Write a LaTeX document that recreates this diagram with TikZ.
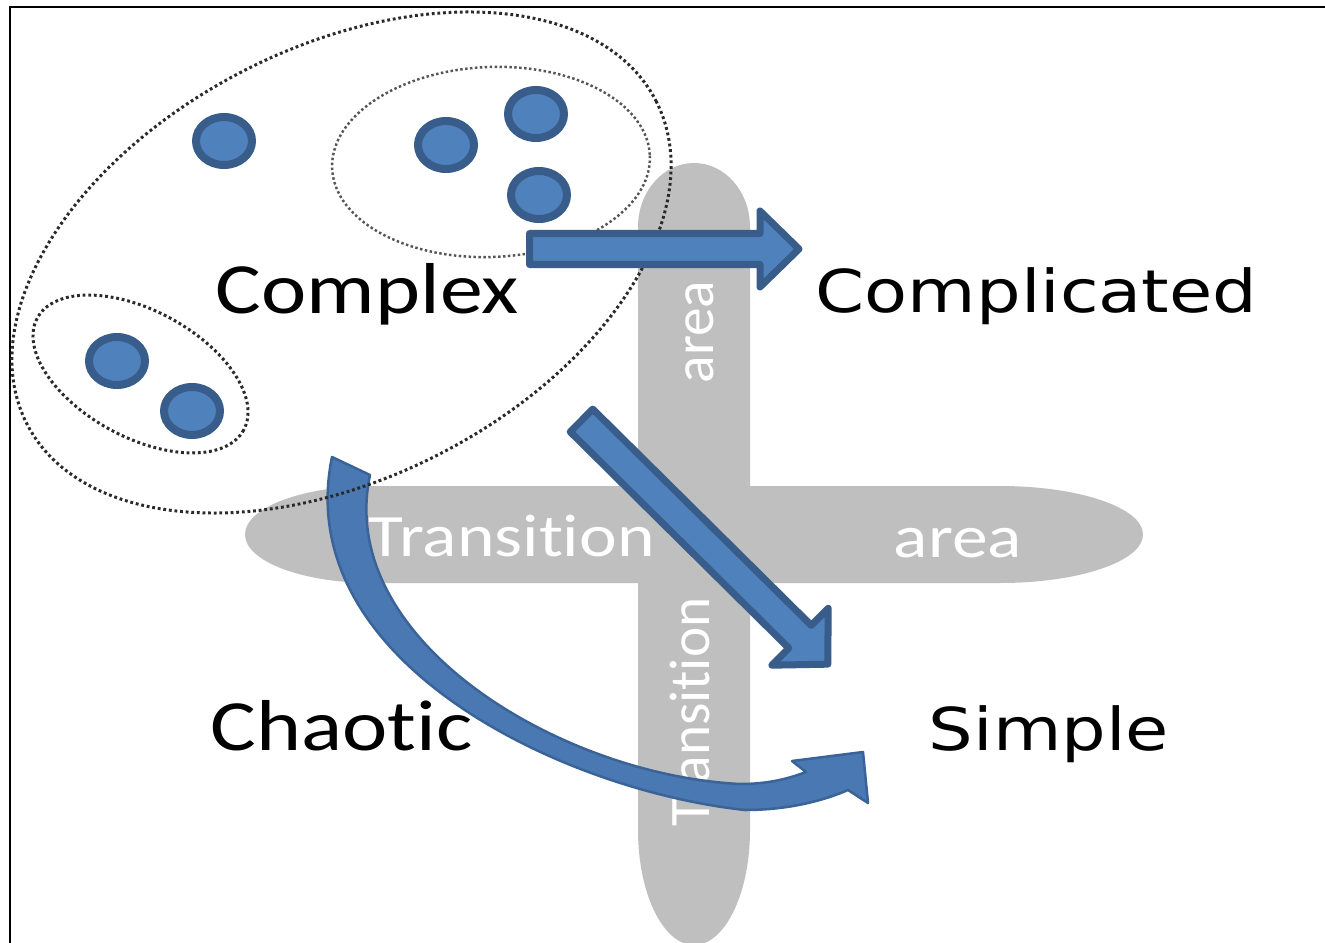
\documentclass[tikz,border=0pt]{standalone}
\usepackage{fontspec}
\newfontfamily\calib{Carlito}[Ligatures={NoCommon,NoContextual}, RawFeature=-liga]
\newfontfamily\verd{DejaVu Sans}
\definecolor{barGray}{HTML}{BFBFBF}
\definecolor{blueFill}{HTML}{4F81BD}
\definecolor{blueEdge}{HTML}{385D8A}
\definecolor{curveFill}{HTML}{4A78B2}
\definecolor{curveEdge}{HTML}{3A6398}
\definecolor{dotGray}{HTML}{2A2A2A}
\definecolor{dotLight}{HTML}{555555}
\begin{document}
\begin{tikzpicture}[x=0.01cm, y=-0.01cm,
  bar/.style={fill=barGray, draw=none},
  blob/.style={fill=blueFill, draw=blueEdge, line width=0.08cm},
  blockarr/.style={fill=blueFill, draw=blueEdge, line width=0.07cm, line join=round},
  curvarr/.style={fill=curveFill, draw=curveEdge, line width=0.025cm, line join=round},
  dotline/.style={draw=dotGray, line width=0.85pt, dash pattern=on 0.8pt off 0.8pt},
  dotthin/.style={draw=dotLight, line width=0.7pt, dash pattern=on 0.7pt off 0.7pt},
  lbl/.style={inner sep=0pt, anchor=base west, xscale=1.19},
  big/.style={font=\calib\fontsize{20.5pt}{24pt}\selectfont},
  wide/.style={font=\verd\fontsize{16.8pt}{20pt}\selectfont},
  bartext/.style={text=white, inner sep=0pt},
  barfont/.style={font=\calib\fontsize{17.1pt}{20pt}\selectfont},
  vbarfont/.style={font=\calib\fontsize{16.3pt}{20pt}\selectfont},
]
\useasboundingbox (0,0) rectangle (1325,943);
\clip (0,0) rectangle (1325,943);
\fill[white] (0,0) rectangle (1325,943);

% frame
\draw[line width=0.02cm] (10,943) -- (10,7) -- (1325,7);

% transition bars
\fill[bar] (373,486) -- (1000,486)
  arc[start angle=-90, end angle=90, x radius=143, y radius=48.5]
  -- (373,583)
  arc[start angle=90, end angle=270, x radius=128, y radius=48.5] -- cycle;
\fill[bar] (638,227) -- (638,830)
  arc[start angle=180, end angle=0, x radius=56, y radius=115]
  -- (750,227)
  arc[start angle=0, end angle=-180, x radius=56, y radius=64] -- cycle;

% bar texts
\node[bartext, vbarfont, rotate=90] (vtrans) at (690,712) {Transition};
\node[bartext, vbarfont, rotate=90] (varea) at (700,332) {area};
\node[lbl, bartext, barfont] (htrans) at (368,556) {Transition};
\node[lbl, bartext, barfont] (harea) at (893,557) {area};

% curved arrow (Complex -> Simple through chaos)
\coordinate (ctail) at (332,457);
\coordinate (ctip) at (863,752);
\draw[curvarr] (ctail) .. controls (290,660) and (560,790) .. (745,810)
  .. controls (790,810) and (825,800) .. (848,790)
  -- (868,803) -- (ctip) -- (792,761) -- (806,772)
  .. controls (790,778) and (770,784) .. (740,784)
  .. controls (560,775) and (335,640) .. (370,475)
  -- cycle;

% dotted groupings
\draw[dotline, rotate around={27.2:(341.5,262.5)}] (341.5,262.5) ellipse [x radius=353.6, y radius=215.2];
\draw[dotthin, rotate around={2.3:(491,162)}] (491,162) ellipse [x radius=159, y radius=95];
\draw[dotline, rotate around={-28.5:(140.5,374)}] (140.5,374) ellipse [x radius=117.4, y radius=63.3];

% agents
\draw[blob] (224,141) ellipse [x radius=28, y radius=24];
\draw[blob] (446,145) ellipse [x radius=28, y radius=24];
\draw[blob] (536,114) ellipse [x radius=28, y radius=24];
\draw[blob] (539,195) ellipse [x radius=28, y radius=24];
\draw[blob] (117,361) ellipse [x radius=28, y radius=24];
\draw[blob] (192,411) ellipse [x radius=28, y radius=24];

% block arrows
\coordinate (a1tail) at (526,249);
\coordinate (a2tail) at (579,418);
\begin{scope}[shift={(a1tail)}]
  \draw[blockarr] (3.5,-15.5) -- (234,-15.5) -- (234,-38) -- (273,0) -- (234,38) -- (234,15.5) -- (3.5,15.5) -- cycle;
\end{scope}
\begin{scope}[shift={(a2tail)}, rotate=-44.7]
  \draw[blockarr] (3.5,-16) -- (311,-16) -- (311,-40) -- (350,0) -- (311,40) -- (311,16) -- (3.5,16) -- cycle;
\end{scope}

% domain labels
\node[lbl, big] (complex) at (215,314) {Complex};
\node[lbl, wide] (complicated) at (815,313) {Complicated};
\node[lbl, big] (chaotic) at (210,750) {Chaotic};
\node[lbl, wide] (simple) at (928,750) {Simple};
\end{tikzpicture}
\end{document}
